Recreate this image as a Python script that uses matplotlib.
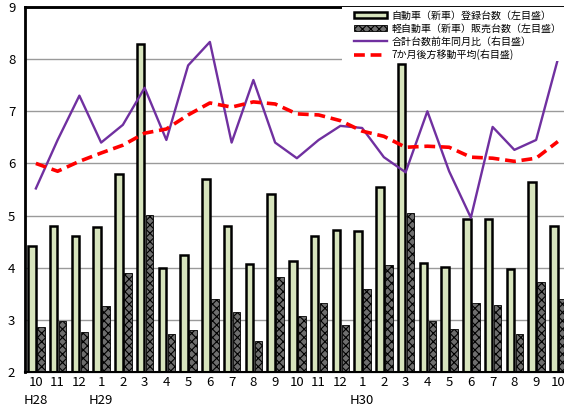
import numpy as np
import matplotlib
matplotlib.use("Agg")
import matplotlib.pyplot as plt
from matplotlib.patches import Patch, Rectangle
from matplotlib.lines import Line2D
from matplotlib.transforms import blended_transform_factory

plt.rcParams['font.family'] = ['Noto Sans CJK JP', 'DejaVu Sans']
plt.rcParams['hatch.linewidth'] = 0.8

months = ["10", "11", "12", "1", "2", "3", "4", "5", "6", "7", "8", "9",
          "10", "11", "12", "1", "2", "3", "4", "5", "6", "7", "8", "9", "10"]
years = {0: "H28", 3: "H29", 15: "H30"}

registered = [4.42, 4.80, 4.60, 4.78, 5.80, 8.30, 4.00, 4.25, 5.70, 4.80, 4.08, 5.42,
              4.12, 4.60, 4.73, 4.70, 5.55, 7.90, 4.10, 4.02, 4.93, 4.93, 3.98, 5.65, 4.80]
kei_sales = [2.87, 2.98, 2.77, 3.27, 3.90, 5.02, 2.72, 2.80, 3.40, 3.15, 2.60, 3.82,
             3.08, 3.32, 2.90, 3.60, 4.05, 5.05, 2.97, 2.83, 3.33, 3.28, 2.73, 3.72, 3.40]
yoy_total = [5.52, 6.45, 7.30, 6.40, 6.74, 7.45, 6.45, 7.88, 8.33, 6.40, 7.60, 6.40,
             6.10, 6.45, 6.72, 6.68, 6.12, 5.83, 7.00, 5.85, 4.96, 6.70, 6.26, 6.45, 8.00]
moving_avg = [6.00, 5.85, 6.04, 6.20, 6.35, 6.58, 6.66, 6.93, 7.16, 7.08, 7.18, 7.14,
              6.95, 6.93, 6.82, 6.62, 6.52, 6.31, 6.33, 6.31, 6.12, 6.10, 6.04, 6.10, 6.42]

labels = ["自動車（新車）登録台数（左目盛）", "軽自動車（新車）販売台数（左目盛）",
          "合計台数前年同月比（右目盛）", "7か月後方移動平均(右目盛)"]

green = '#d7e4bd'
kei_face = '#6e6e6e'
purple = '#7030a0'
red = '#ff0000'

fig = plt.figure(figsize=(5.64, 4.05), dpi=100)
ax = fig.add_axes([25/564, 1-372/405, 543.75/564, 365/405])
x = np.arange(len(months))

ax.set_ylim(2, 9)
ax.set_xlim(-0.5, len(months) - 0.5)
ax.set_yticks(range(2, 10))
ax.yaxis.grid(True, color='#9a9a9a', linewidth=1.0)
ax.set_axisbelow(True)

ax.bar(x - 0.184, registered, width=0.345, color=green, edgecolor='black',
       linewidth=1.8, zorder=2)
ax.bar(x + 0.23, kei_sales, width=0.35, color=kei_face, edgecolor='black',
       hatch='xxxx', linewidth=0.6, zorder=2)

ax2 = ax.twinx()
ax2.set_ylim(2, 9)
ax2.plot(x, yoy_total, color=purple, linewidth=1.7, zorder=3)
ax2.plot(x, moving_avg, color=red, linewidth=2.6, linestyle=(0, (3, 1.6)),
         zorder=3)
ax2.set_yticks([])
ax2.tick_params(length=0)

for a in (ax, ax2):
    for s in a.spines.values():
        s.set_color('black')
ax.spines['left'].set_linewidth(2.0)
ax.spines['top'].set_linewidth(1.8)
ax.spines['bottom'].set_linewidth(1.5)
ax.spines['right'].set_linewidth(1.5)
ax2.spines['top'].set_linewidth(1.8)

ax.set_xticks(x)
ax.set_xticklabels(months, fontsize=9.5)
ax.tick_params(axis='x', length=0, pad=3)
ax.tick_params(axis='y', length=0, pad=7, labelsize=9.5)

trans = blended_transform_factory(ax.transData, fig.transFigure)
for i, yl in years.items():
    ax.text(x[i], 1 - 400/405, yl, transform=trans, ha='center', va='center',
            fontsize=9.5)

# white background behind legend
ax2.add_patch(Rectangle((342/564, 1-61/405), (564-342)/564, 54/405,
                        transform=fig.transFigure, facecolor='white',
                        edgecolor='none', zorder=5, clip_on=False))

handles = [
    Patch(facecolor=green, edgecolor='black', linewidth=1.8),
    Patch(facecolor=kei_face, edgecolor='black', hatch='xxxx', linewidth=0.6),
    Line2D([], [], color=purple, linewidth=1.7),
    Line2D([], [], color=red, linewidth=2.6, linestyle=(0, (3, 1.6))),
]
leg = ax2.legend(handles, labels, loc='upper left', bbox_to_anchor=(353/564, 1-9.5/405),
                 bbox_transform=fig.transFigure, fontsize=7.2, frameon=False,
                 handlelength=3.3, handleheight=0.5, handletextpad=0.45,
                 labelspacing=0.3, borderpad=0.1, borderaxespad=0)
leg.set_zorder(10)

fig.savefig("out.png", dpi=100)
